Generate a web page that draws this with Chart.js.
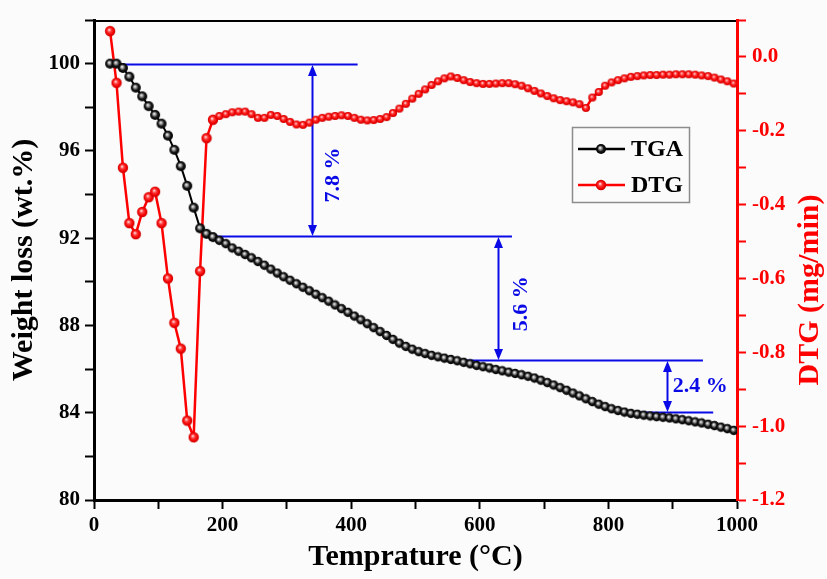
<!DOCTYPE html>
<html>
<head>
<meta charset="utf-8">
<script src="https://cdn.jsdelivr.net/npm/chart.js@4.4.0/dist/chart.umd.min.js"></script>
<style>
  html, body { margin: 0; padding: 0; background: #fbfbfb; }
  #wrap { width: 827px; height: 579px; }
</style>
</head>
<body>
<div id="wrap"><canvas id="c" width="827" height="579"></canvas></div>
<script>
// ---------------- data ----------------
const temperatures = [25,35,45,55,65,75,85,95,105,115,125,135,145,155,165,175,185,195,
  205,215,225,235,245,255,265,275,285,295,305,315,325,335,345,355,365,375,385,395,
  405,415,425,435,445,455,465,475,485,495,505,515,525,535,545,555,565,575,585,595,
  605,615,625,635,645,655,665,675,685,695,705,715,725,735,745,755,765,775,785,795,
  805,815,825,835,845,855,865,875,885,895,905,915,925,935,945,955,965,975,985,995];

const tgaWeight = [100.0,100.0,99.8,99.4,98.9,98.5,98.05,97.65,97.25,96.7,96.05,95.3,94.4,93.4,92.45,92.2,92.05,91.9,
  91.75,91.55,91.4,91.25,91.1,90.93,90.76,90.58,90.4,90.23,90.07,89.91,89.75,89.59,89.43,89.27,89.11,88.94,88.77,88.6,
  88.43,88.26,88.08,87.9,87.72,87.54,87.36,87.19,87.04,86.91,86.8,86.71,86.63,86.56,86.5,86.44,86.38,86.31,86.24,86.17,
  86.11,86.05,85.98,85.92,85.86,85.8,85.74,85.67,85.59,85.49,85.38,85.27,85.15,85.03,84.9,84.77,84.64,84.51,84.39,84.28,
  84.18,84.1,84.03,83.97,83.93,83.89,83.85,83.82,83.79,83.76,83.72,83.68,83.63,83.58,83.53,83.47,83.41,83.34,83.27,83.19];

const dtgRate = [0.07,-0.07,-0.30,-0.45,-0.48,-0.42,-0.38,-0.365,-0.45,-0.60,-0.72,-0.79,-0.985,-1.03,-0.58,-0.22,-0.17,-0.16,
  -0.155,-0.15,-0.148,-0.148,-0.155,-0.165,-0.165,-0.157,-0.16,-0.168,-0.176,-0.183,-0.184,-0.178,-0.17,-0.165,-0.162,-0.16,-0.158,-0.16,
  -0.165,-0.17,-0.172,-0.171,-0.168,-0.163,-0.152,-0.14,-0.127,-0.113,-0.1,-0.088,-0.076,-0.066,-0.058,-0.053,-0.057,-0.063,-0.068,-0.071,
  -0.073,-0.073,-0.072,-0.071,-0.071,-0.074,-0.078,-0.085,-0.092,-0.099,-0.106,-0.112,-0.117,-0.12,-0.123,-0.128,-0.138,-0.11,-0.095,-0.078,
  -0.069,-0.063,-0.058,-0.054,-0.052,-0.05,-0.049,-0.049,-0.048,-0.048,-0.047,-0.047,-0.047,-0.048,-0.05,-0.052,-0.056,-0.061,-0.066,-0.072];

const seriesNames = ['TGA', 'DTG'];
const xLabelTicks = [0, 200, 400, 600, 800, 1000];
const yLabelTicks = [80, 84, 88, 92, 96, 100];
const y1LabelTicks = [-1.2, -1.0, -0.8, -0.6, -0.4, -0.2, 0.0];

// weight-loss steps (data units)
const stepLevels = [100, 92.1, 86.43, 84.05];
const stepLineFrom = [25, 172, 558, 815];
const stepLineTo = [410, 650, 947, 963];
const stepArrowTemp = [339, 628, 891];
const stepTexts = ['7.8 %', '5.6 %', '2.4 %'];
const stepTextTemp = [372, 664, 900];
const stepTextWeight = [94.9, 89.0, 85.2];
const stepTextVertical = [true, true, false];

// ---------------- styling ----------------
const SERIF = '"Liberation Serif", "Times New Roman", serif';
const RED = '#ff0000';
const BLUE = '#0a0ae6';

function sphere(r, stops) {
  const c = document.createElement('canvas');
  const s = Math.round(r * 2) + 2;
  c.width = s; c.height = s;
  const g = c.getContext('2d');
  const cx = s / 2, cy = s / 2;
  const grad = g.createRadialGradient(cx - r * 0.2, cy - r * 0.25, r * 0.05, cx, cy, r);
  stops.forEach(st => grad.addColorStop(st[0], st[1]));
  g.fillStyle = grad;
  g.beginPath(); g.arc(cx, cy, r, 0, Math.PI * 2); g.fill();
  return c;
}
const blackStops = [[0, '#f4f4f4'], [0.3, '#8a8a8a'], [0.6, '#151515'], [1, '#000']];
const redStops = [[0, '#ffe6e6'], [0.35, '#ff3a3a'], [0.75, '#f00000'], [1, '#c80000']];
const bigBlack = sphere(5.0, blackStops);
const smallBlack = sphere(4.7, blackStops);
const bigRed = sphere(5.2, redStops);
const smallRed = sphere(4.1, redStops);

const tgaPoints = temperatures.map((t, i) => ({ x: t, y: tgaWeight[i] }));
const dtgPoints = temperatures.map((t, i) => ({ x: t, y: dtgRate[i] }));

const inList = (list, v) => list.some(a => Math.abs(a - v) < 1e-6);

const decorPlugin = {
  id: 'decor',
  beforeDatasetsDraw(chart) {
    const { ctx, scales } = chart;
    const xs = scales.x, ys = scales.y;
    ctx.save();
    ctx.strokeStyle = BLUE; ctx.fillStyle = BLUE; ctx.lineWidth = 2;
    stepLevels.forEach((lv, i) => {
      const py = Math.round(ys.getPixelForValue(lv)) + 0.5;
      ctx.beginPath();
      ctx.moveTo(xs.getPixelForValue(stepLineFrom[i]), py);
      ctx.lineTo(xs.getPixelForValue(stepLineTo[i]), py);
      ctx.stroke();
    });
    stepArrowTemp.forEach((t, i) => {
      const px = Math.round(xs.getPixelForValue(t)) + 0.5;
      const yTop = Math.round(ys.getPixelForValue(stepLevels[i])) + 1;
      const yBot = Math.round(ys.getPixelForValue(stepLevels[i + 1]));
      const ah = 11, aw = 4.5;
      ctx.beginPath(); ctx.moveTo(px, yTop + ah - 1); ctx.lineTo(px, yBot - ah + 1); ctx.stroke();
      ctx.beginPath(); ctx.moveTo(px, yTop); ctx.lineTo(px - aw, yTop + ah); ctx.lineTo(px + aw, yTop + ah); ctx.closePath(); ctx.fill();
      ctx.beginPath(); ctx.moveTo(px, yBot); ctx.lineTo(px - aw, yBot - ah); ctx.lineTo(px + aw, yBot - ah); ctx.closePath(); ctx.fill();
    });
    ctx.font = 'bold 22px ' + SERIF;
    ctx.textBaseline = 'middle';
    stepTexts.forEach((txt, i) => {
      const px = xs.getPixelForValue(stepTextTemp[i]);
      const py = ys.getPixelForValue(stepTextWeight[i]);
      if (stepTextVertical[i]) {
        ctx.save(); ctx.translate(px, py); ctx.rotate(-Math.PI / 2);
        ctx.textAlign = 'center'; ctx.fillText(txt, 0, 0); ctx.restore();
      } else {
        ctx.textAlign = 'left'; ctx.fillText(txt, px, py);
      }
    });
    ctx.restore();
  },
  afterDraw(chart) {
    const { ctx, chartArea } = chart;
    ctx.save();
    ctx.strokeStyle = '#000'; ctx.lineWidth = 2;
    ctx.beginPath(); ctx.moveTo(chartArea.left, chartArea.top + 1); ctx.lineTo(chartArea.right - 1, chartArea.top + 1); ctx.stroke();
    ctx.fillStyle = RED;
    ctx.font = 'bold 30px ' + SERIF;
    ctx.textAlign = 'center'; ctx.textBaseline = 'middle';
    ctx.translate(810, (chartArea.top + chartArea.bottom) / 2 + 30);
    ctx.rotate(-Math.PI / 2);
    ctx.fillText('DTG (mg/min)', 0, 0);
    ctx.restore();

    ctx.save();
    const bx = 572, by = 127, bw = 117, bh = 75;
    ctx.strokeStyle = '#8c8c8c'; ctx.lineWidth = 1.5;
    ctx.strokeRect(bx + 0.5, by + 0.5, bw, bh);
    const rows = [
      { name: seriesNames[0], color: '#000', img: bigBlack, y: by + 22 },
      { name: seriesNames[1], color: RED, img: bigRed, y: by + 58 }
    ];
    rows.forEach(r => {
      ctx.strokeStyle = r.color; ctx.lineWidth = 2.5;
      ctx.beginPath(); ctx.moveTo(bx + 6, r.y); ctx.lineTo(bx + 53, r.y); ctx.stroke();
      ctx.drawImage(r.img, bx + 29 - r.img.width / 2, r.y - r.img.height / 2);
      ctx.fillStyle = '#000';
      ctx.font = 'bold 24px ' + SERIF;
      ctx.textAlign = 'left'; ctx.textBaseline = 'middle';
      ctx.fillText(r.name, bx + 59, r.y + 1);
    });
    ctx.restore();
  }
};

const bgPlugin = {
  id: 'bg',
  beforeDraw(chart) {
    const { ctx } = chart;
    ctx.save(); ctx.fillStyle = '#fbfbfb'; ctx.fillRect(0, 0, chart.width, chart.height); ctx.restore();
  }
};

const tickFont = { family: SERIF, size: 21, weight: 'bold' };
const gridCommon = (color) => ({ drawOnChartArea: false, drawTicks: true, tickLength: 9, tickWidth: 2, tickColor: color });

new Chart(document.getElementById('c'), {
  type: 'line',
  data: {
    datasets: [
      {
        label: seriesNames[0], data: tgaPoints, yAxisID: 'y',
        borderColor: '#000', borderWidth: 2, tension: 0,
        pointStyle: (c) => c.dataIndex < 17 ? bigBlack : smallBlack,
        pointRadius: 4.5
      },
      {
        label: seriesNames[1], data: dtgPoints, yAxisID: 'y1',
        borderColor: RED, borderWidth: 2.5, tension: 0,
        pointStyle: (c) => c.dataIndex < 17 ? bigRed : smallRed,
        pointRadius: 4.5
      }
    ]
  },
  options: {
    responsive: false,
    animation: false,
    devicePixelRatio: 1,
    layout: { padding: { top: 20, left: 0, right: 0, bottom: 0 } },
    plugins: { legend: { display: false }, tooltip: { enabled: false } },
    scales: {
      x: {
        type: 'linear', position: 'bottom', min: 0, max: 1000,
        ticks: {
          stepSize: 100, autoSkip: false, maxRotation: 0, padding: 4,
          color: '#000', font: tickFont,
          callback: (v) => inList(xLabelTicks, v) ? String(v) : ''
        },
        grid: gridCommon('#000'),
        border: { display: true, color: '#000', width: 3 },
        title: { display: true, text: 'Temprature (°C)', color: '#000',
                 font: { family: SERIF, size: 30, weight: 'bold' }, padding: { top: 0, bottom: 4 } },
        afterFit: (s) => { s.height = 79; s.paddingLeft = 0; s.paddingRight = 0; }
      },
      y: {
        type: 'linear', position: 'left', min: 80, max: 102,
        ticks: {
          stepSize: 2, autoSkip: false, padding: 5, color: '#000', font: tickFont,
          callback: (v) => inList(yLabelTicks, v) ? String(v) : ''
        },
        grid: gridCommon('#000'),
        border: { display: true, color: '#000', width: 3 },
        title: { display: true, text: 'Weight loss (wt.%)', color: '#000',
                 font: { family: SERIF, size: 30, weight: 'bold' }, padding: { top: 6, bottom: 0 } },
        afterFit: (s) => { s.width = 94; s.paddingTop = 0; s.paddingBottom = 0; }
      },
      y1: {
        type: 'linear', position: 'right', min: -1.2, max: 0.1,
        ticks: {
          stepSize: 0.1, autoSkip: false, padding: 6, color: RED, font: tickFont,
          callback: (v) => inList(y1LabelTicks, v) ? (Math.round(v * 10) / 10).toFixed(1) : ''
        },
        grid: gridCommon(RED),
        border: { display: true, color: RED, width: 3 },
        title: { display: false },
        afterFit: (s) => { s.width = 90; s.paddingTop = 0; s.paddingBottom = 0; }
      }
    }
  },
  plugins: [bgPlugin, decorPlugin]
});
</script>
</body>
</html>
